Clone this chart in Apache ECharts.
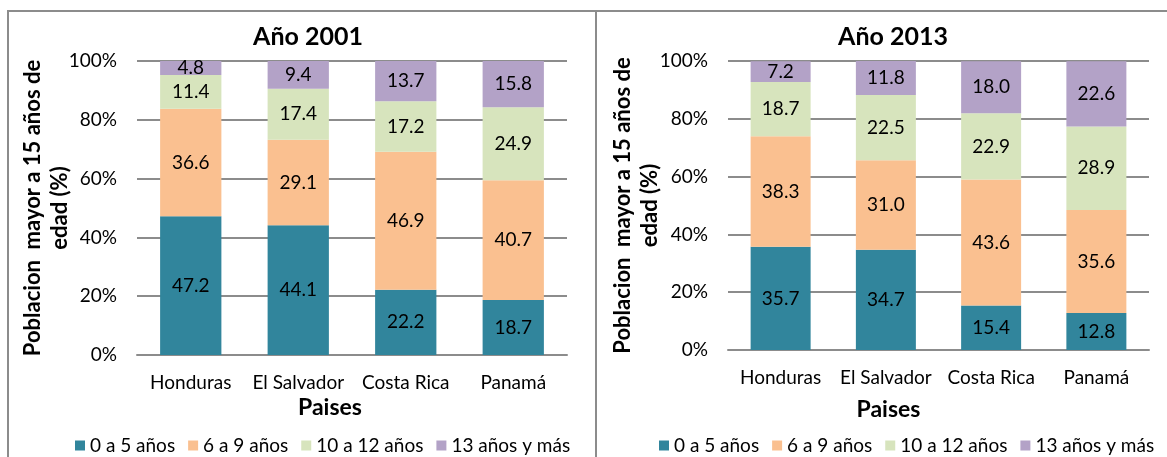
<!DOCTYPE html>
<html>
<head>
<meta charset="utf-8">
<script src="https://cdn.jsdelivr.net/npm/echarts@6/dist/echarts.min.js"></script>
<style>
  html, body { margin: 0; padding: 0; background: #fff; }
  #chart { width: 1167px; height: 457px; }
</style>
</head>
<body>
<div id="chart"></div>
<script>
// datos
var paises = ['Honduras', 'El Salvador', 'Costa Rica', 'Panamá'];
var grupos = ['0 a 5 años', '6 a 9 años', '10 a 12 años', '13 años y más'];
var colores = ['#31859C', '#FAC090', '#D7E4BD', '#B3A2C7'];

var a2001_0a5 = [47.2, 44.1, 22.2, 18.7];
var a2001_6a9 = [36.6, 29.1, 46.9, 40.7];
var a2001_10a12 = [11.4, 17.4, 17.2, 24.9];
var a2001_13mas = [4.8, 9.4, 13.7, 15.8];

var a2013_0a5 = [35.7, 34.7, 15.4, 12.8];
var a2013_6a9 = [38.3, 31.0, 43.6, 35.6];
var a2013_10a12 = [18.7, 22.5, 22.9, 28.9];
var a2013_13mas = [7.2, 11.8, 18.0, 22.6];

var yTicks = [0, 20, 40, 60, 80, 100];

var fuente = 'Lato';
var gris = '#8c8c8c';

var datos2001 = [a2001_0a5, a2001_6a9, a2001_10a12, a2001_13mas];
var datos2013 = [a2013_0a5, a2013_6a9, a2013_10a12, a2013_13mas];

function makeSeries(datos, idx, stack) {
  return datos.map(function (d, i) {
    return {
      name: grupos[i],
      type: 'bar',
      stack: stack,
      xAxisIndex: idx,
      yAxisIndex: idx,
      barWidth: '57%',
      data: d,
      itemStyle: { color: colores[i] },
      label: {
        show: true,
        position: 'inside',
        color: '#000',
        fontSize: 19,
        fontFamily: fuente,
        formatter: function (p) { return p.value.toFixed(1); }
      }
    };
  });
}

function yAxis(idx, gap) {
  return {
    type: 'value',
    gridIndex: idx,
    min: yTicks[0],
    max: yTicks[yTicks.length - 1],
    interval: yTicks[1] - yTicks[0],
    name: 'Poblacion  mayor a 15 años de\nedad (%)',
    nameLocation: 'middle',
    nameRotate: 90,
    nameGap: gap,
    nameMoveOverlap: false,
    nameTextStyle: { fontFamily: fuente, fontSize: 22, fontWeight: 'bold', color: '#000', lineHeight: 27 },
    axisLabel: { formatter: '{value}%', fontFamily: fuente, fontSize: 19, color: '#000', margin: 20 },
    axisLine: { show: false },
    axisTick: { show: false },
    splitLine: { lineStyle: { color: gris, width: 2 } }
  };
}

function xAxis(idx, gap, shift) {
  return {
    type: 'category',
    gridIndex: idx,
    data: paises,
    name: 'Paises',
    nameLocation: 'middle',
    nameGap: gap,
    nameMoveOverlap: false,
    nameTextStyle: { fontFamily: fuente, fontSize: 23, fontWeight: 'bold', color: '#000', padding: [0, shift, 0, 0] },
    axisLabel: { interval: 0, hideOverlap: false, fontFamily: fuente, fontSize: 19, color: '#000', margin: 18 },
    axisLine: { lineStyle: { color: gris, width: 2 } },
    axisTick: { show: false }
  };
}

var myChart = echarts.init(document.getElementById('chart'));

var option = {
  animation: false,
  title: [
    { text: 'Año 2001', left: 303, top: 19, textAlign: 'center',
      textStyle: { fontFamily: fuente, fontSize: 25, fontWeight: 'bold', color: '#000' } },
    { text: 'Año 2013', left: 888, top: 19, textAlign: 'center',
      textStyle: { fontFamily: fuente, fontSize: 25, fontWeight: 'bold', color: '#000' } }
  ],
  legend: [
    { data: grupos, left: 70, top: 431, width: 560, itemWidth: 10, itemHeight: 10, itemGap: 13, icon: 'rect',
      textStyle: { fontFamily: fuente, fontSize: 19, color: '#000' } },
    { data: grupos, left: 654, top: 431, width: 560, itemWidth: 10, itemHeight: 10, itemGap: 13, icon: 'rect',
      textStyle: { fontFamily: fuente, fontSize: 19, color: '#000' } }
  ],
  grid: [
    { left: 137, width: 430, top: 61, height: 294 },
    { left: 728, width: 421, top: 61, height: 289 }
  ],
  xAxis: [xAxis(0, 41, 44), xAxis(1, 48, 100)],
  yAxis: [yAxis(0, 64), yAxis(1, 65)],
  series: makeSeries(datos2001, 0, 'a2001').concat(makeSeries(datos2013, 1, 'a2013')),
  graphic: [
    { type: 'rect', shape: { x: 8, y: 11, width: 588, height: 470 }, style: { fill: 'none', stroke: gris, lineWidth: 2 }, silent: true },
    { type: 'line', shape: { x1: 596, y1: 11, x2: 1170, y2: 11 }, style: { stroke: gris, lineWidth: 2 }, silent: true }
  ]
};

option && myChart.setOption(option);
</script>
</body>
</html>
